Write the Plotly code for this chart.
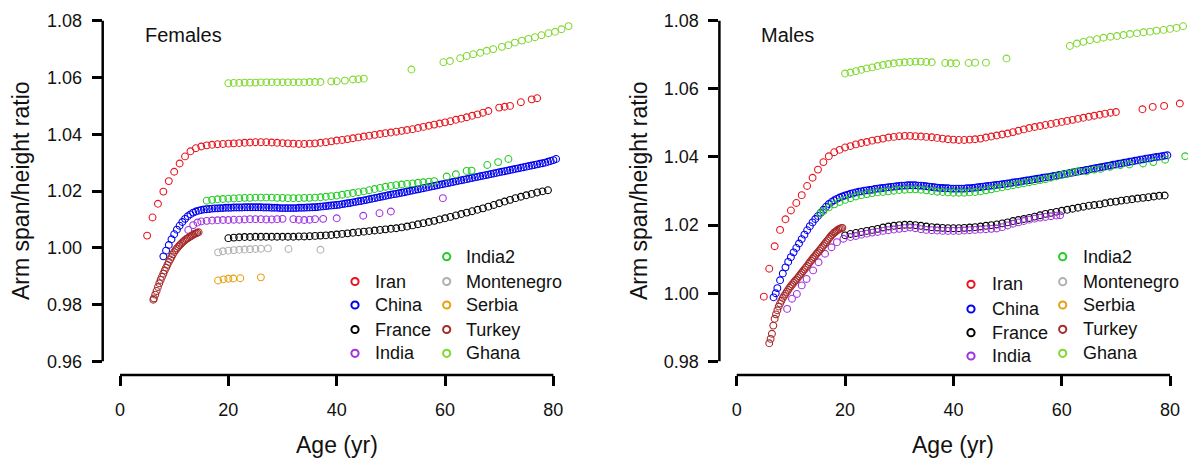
import plotly.graph_objects as go

W, H = 1188, 463
FONT = "Liberation Sans, Arial, sans-serif"

# ---------------- DATA ----------------
series_names = ["Iran", "China", "France", "India", "India2", "Montenegro", "Serbia", "Turkey", "Ghana"]
series_colors = ["#E8141E", "#0000EE", "#000000", "#A030E0", "#22CC22", "#B0B0B0", "#E8A010", "#A52A2A", "#80D830"]

x_ticks = [0, 20, 40, 60, 80]
f_y_ticks = [0.96, 0.98, 1.00, 1.02, 1.04, 1.06, 1.08]
m_y_ticks = [0.98, 1.00, 1.02, 1.04, 1.06, 1.08]

# ---- Females ----
f_iran_age = [5, 6, 7, 8, 9, 10, 11, 12, 13, 14, 15, 16, 17, 18, 19, 20, 21, 22, 23, 24, 25, 26, 27, 28, 29, 30,
              31, 32, 33, 34, 35, 36, 37, 38, 39, 40, 41, 42, 43, 44, 45, 46, 47, 48, 49, 50, 51, 52, 53, 54, 55,
              56, 57, 58, 59, 60, 61, 62, 63, 64, 65, 66, 67, 68, 70, 71, 72, 74, 76, 77]
f_iran_val = [1.0043, 1.0107, 1.0155, 1.0198, 1.0235, 1.0268, 1.0297, 1.0322, 1.0340, 1.0351, 1.0357, 1.0361,
              1.0363, 1.0365, 1.0366, 1.0367, 1.0368, 1.0369, 1.0370, 1.0371, 1.0372, 1.0372, 1.0372, 1.0371,
              1.0370, 1.0369, 1.0368, 1.0367, 1.0366, 1.0366, 1.0367, 1.0368, 1.0370, 1.0372, 1.0375, 1.0378,
              1.0380, 1.0383, 1.0386, 1.0389, 1.0392, 1.0395, 1.0398, 1.0401, 1.0404, 1.0406, 1.0409, 1.0412,
              1.0415, 1.0418, 1.0422, 1.0426, 1.0430, 1.0434, 1.0438, 1.0442, 1.0446, 1.0451, 1.0455, 1.0460,
              1.0465, 1.0470, 1.0476, 1.0482, 1.0494, 1.0497, 1.0500, 1.0513, 1.0523, 1.0527]

f_china_age = [8.0, 8.5, 9.0, 9.5, 10.0, 10.5, 11.0, 11.5, 12.0, 12.5, 13.0, 13.5, 14.0, 14.5, 15.0, 15.5,
               16.0, 16.5, 17.0, 17.5, 18.0, 18.5, 19.0, 19.5, 20.0, 20.5, 21.0, 21.5, 22.0, 22.5, 23.0, 23.5,
               24.0, 24.5, 25.0, 25.5, 26.0, 26.5, 27.0, 27.5, 28.0, 28.5, 29.0, 29.5, 30.0, 30.5, 31.0, 31.5,
               32.0, 32.5, 33.0, 33.5, 34.0, 34.5, 35.0, 35.5, 36.0, 36.5, 37.0, 37.5, 38.0, 38.5, 39.0, 39.5,
               40.0, 40.5, 41.0, 41.5, 42.0, 42.5, 43.0, 43.5, 44.0, 44.5, 45.0, 45.5, 46.0, 46.5, 47.0, 47.5,
               48.0, 48.5, 49.0, 49.5, 50.0, 50.5, 51.0, 51.5, 52.0, 52.5, 53.0, 53.5, 54.0, 54.5, 55.0, 55.5,
               56.0, 56.5, 57.0, 57.5, 58.0, 58.5, 59.0, 59.5, 60.0, 60.5, 61.0, 61.5, 62.0, 62.5, 63.0, 63.5,
               64.0, 64.5, 65.0, 65.5, 66.0, 66.5, 67.0, 67.5, 68.0, 68.5, 69.0, 69.5, 70.0, 70.5, 71.0, 71.5,
               72.0, 72.5, 73.0, 73.5, 74.0, 74.5, 75.0, 75.5, 76.0, 76.5, 77.0, 77.5, 78.0, 78.5, 79.0, 79.5,
               80.0, 80.5]
f_china_val = [0.9970, 0.9990, 1.0010, 1.0030, 1.0048, 1.0064, 1.0078, 1.0091, 1.0102, 1.0111, 1.0118, 1.0124,
               1.0128, 1.0131, 1.0133, 1.0135, 1.0136, 1.0137, 1.0138, 1.0139, 1.0139, 1.0140, 1.0140, 1.0141,
               1.0141, 1.0141, 1.0142, 1.0142, 1.0142, 1.0142, 1.0143, 1.0143, 1.0143, 1.0143, 1.0143, 1.0143,
               1.0143, 1.0142, 1.0142, 1.0142, 1.0141, 1.0141, 1.0141, 1.0140, 1.0140, 1.0140, 1.0140, 1.0140,
               1.0140, 1.0140, 1.0141, 1.0141, 1.0141, 1.0142, 1.0142, 1.0143, 1.0143, 1.0144, 1.0145, 1.0146,
               1.0147, 1.0148, 1.0149, 1.0150, 1.0151, 1.0152, 1.0154, 1.0155, 1.0157, 1.0158, 1.0160, 1.0162,
               1.0164, 1.0165, 1.0167, 1.0169, 1.0171, 1.0173, 1.0175, 1.0177, 1.0179, 1.0181, 1.0183, 1.0185,
               1.0187, 1.0189, 1.0190, 1.0192, 1.0194, 1.0196, 1.0198, 1.0200, 1.0202, 1.0204, 1.0206, 1.0208,
               1.0210, 1.0212, 1.0214, 1.0216, 1.0218, 1.0220, 1.0222, 1.0224, 1.0226, 1.0228, 1.0230, 1.0232,
               1.0234, 1.0236, 1.0238, 1.0240, 1.0242, 1.0244, 1.0246, 1.0248, 1.0250, 1.0252, 1.0254, 1.0256,
               1.0258, 1.0260, 1.0262, 1.0264, 1.0266, 1.0268, 1.0270, 1.0272, 1.0274, 1.0276, 1.0278, 1.0280,
               1.0282, 1.0284, 1.0286, 1.0288, 1.0290, 1.0292, 1.0294, 1.0296, 1.0298, 1.0300, 1.0303, 1.0306,
               1.0309, 1.0313]

f_france_age = [20, 21, 22, 23, 24, 25, 26, 27, 28, 29, 30, 31, 32, 33, 34, 35, 36, 37, 38, 39, 40, 41, 42, 43,
                44, 45, 46, 47, 48, 49, 50, 51, 52, 53, 54, 55, 56, 57, 58, 59, 60, 61, 62, 63, 64, 65, 66, 67,
                68, 69, 70, 71, 72, 73, 74, 75, 76, 77, 78, 79]
f_france_val = [1.0034, 1.0036, 1.0037, 1.0038, 1.0038, 1.0039, 1.0039, 1.0039, 1.0039, 1.0039, 1.0039, 1.0039,
                1.0039, 1.0040, 1.0040, 1.0041, 1.0042, 1.0043, 1.0044, 1.0045, 1.0047, 1.0049, 1.0051, 1.0053,
                1.0055, 1.0057, 1.0059, 1.0061, 1.0063, 1.0065, 1.0067, 1.0069, 1.0072, 1.0075, 1.0079, 1.0083,
                1.0087, 1.0091, 1.0095, 1.0100, 1.0104, 1.0109, 1.0114, 1.0119, 1.0124, 1.0129, 1.0134, 1.0139,
                1.0145, 1.0151, 1.0157, 1.0163, 1.0169, 1.0175, 1.0180, 1.0185, 1.0190, 1.0195, 1.0199, 1.0203]

f_india_age = [12.6, 13.5, 14.3, 15, 16, 17, 18, 19, 20, 21, 22, 23, 24, 25, 26, 27, 28, 29, 30,
               32, 33, 34, 35, 36, 37.5, 40, 44.9, 47.9, 50, 59.6]
f_india_val = [1.0063, 1.0080, 1.0089, 1.0093, 1.0095, 1.0096, 1.0097, 1.0098, 1.0098, 1.0099, 1.0099, 1.0100,
               1.0101, 1.0101, 1.0101, 1.0100, 1.0100, 1.0101, 1.0102, 1.0101, 1.0099, 1.0098, 1.0099, 1.0101,
               1.0102, 1.0104, 1.0113, 1.0122, 1.0128, 1.0175]

f_india2_age = [16, 17, 18, 19, 20, 21, 22, 23, 24, 25, 26, 27, 28, 29, 30, 31, 32, 33, 34, 35, 36, 37, 38, 39,
                40, 41, 42, 43, 44, 45, 46, 47, 48, 49, 50, 51, 52, 53, 54, 55, 56, 57, 58,
                60.3, 62, 64, 64.9, 67.8, 69.8, 71.7]
f_india2_val = [1.0166, 1.0169, 1.0171, 1.0172, 1.0173, 1.0174, 1.0175, 1.0176, 1.0176, 1.0177, 1.0177, 1.0177,
                1.0177, 1.0176, 1.0176, 1.0175, 1.0175, 1.0175, 1.0176, 1.0176, 1.0177, 1.0178, 1.0180, 1.0182,
                1.0184, 1.0187, 1.0190, 1.0193, 1.0196, 1.0199, 1.0203, 1.0207, 1.0211, 1.0215, 1.0218, 1.0221,
                1.0223, 1.0225, 1.0227, 1.0229, 1.0231, 1.0233, 1.0235,
                1.0251, 1.0259, 1.0271, 1.0272, 1.0292, 1.0302, 1.0313]

f_monte_age = [18.1, 19, 20, 21, 22, 23, 24, 25, 26, 27.3, 31.1, 37]
f_monte_val = [0.9984, 0.9988, 0.9990, 0.9992, 0.9993, 0.9994, 0.9995, 0.9996, 0.9997, 0.9998, 0.9996, 0.9993]

f_serbia_age = [18.1, 19.1, 20, 20.9, 22.2, 26]
f_serbia_val = [0.9885, 0.9889, 0.9891, 0.9892, 0.9893, 0.9896]

f_turkey_age = [6.15, 6.25, 6.5, 6.75, 7.0, 7.25, 7.5, 7.75, 8.0, 8.25, 8.5, 8.75, 9.0, 9.25, 9.5, 9.75, 10.0,
                10.25, 10.5, 10.75, 11.0, 11.25, 11.5, 11.75, 12.0, 12.25, 12.5, 12.75, 13.0, 13.25, 13.5,
                13.75, 14.0, 14.25, 14.5]
f_turkey_val = [0.9817, 0.9822, 0.9835, 0.9848, 0.9862, 0.9875, 0.9887, 0.9898, 0.9909, 0.9920, 0.9930, 0.9940,
                0.9950, 0.9959, 0.9968, 0.9977, 0.9985, 0.9992, 0.9998, 1.0004, 1.0009, 1.0014, 1.0019, 1.0023,
                1.0027, 1.0031, 1.0034, 1.0037, 1.0040, 1.0043, 1.0046, 1.0049, 1.0051, 1.0053, 1.0055]

f_ghana_age = [20, 21, 22, 23, 24, 25, 26, 27, 28, 29, 30, 31, 32, 33, 34, 35, 36, 37, 39, 40, 41.5, 43, 44, 45,
               53.8, 59.7, 60.9, 62.8, 64.0, 65.2, 66.5, 67.7, 68.9, 70.5, 71.7, 72.9, 74.2, 75.4, 76.6, 77.8,
               79.1, 80.3, 81.5, 82.8]
f_ghana_val = [1.0580, 1.0581, 1.0581, 1.0582, 1.0582, 1.0582, 1.0583, 1.0583, 1.0583, 1.0583, 1.0583, 1.0583,
               1.0583, 1.0583, 1.0583, 1.0584, 1.0584, 1.0584, 1.0586, 1.0587, 1.0589, 1.0593, 1.0594, 1.0596,
               1.0628, 1.0654, 1.0658, 1.0668, 1.0676, 1.0682, 1.0687, 1.0694, 1.0700, 1.0708, 1.0714, 1.0723,
               1.0730, 1.0736, 1.0742, 1.0749, 1.0756, 1.0761, 1.0770, 1.0781]

# ---- Males ----
m_iran_age = [5, 6, 7, 8, 9, 10, 11, 12, 13, 14, 15, 16, 17, 18, 19, 20, 21, 22, 23, 24, 25, 26, 27, 28, 29, 30,
              31, 32, 33, 34, 35, 36, 37, 38, 39, 40, 41, 42, 43, 44, 45, 46, 47, 48, 49, 50, 51, 52, 53, 54, 55,
              56, 57, 58, 59, 60, 61, 62, 63, 64, 65, 66, 67, 68, 69, 70, 74.9, 76.8, 78.9, 81.8]
m_iran_val = [0.9990, 1.0072, 1.0138, 1.0186, 1.0217, 1.0243, 1.0265, 1.0288, 1.0315, 1.0339, 1.0363, 1.0385,
              1.0402, 1.0414, 1.0421, 1.0428, 1.0432, 1.0437, 1.0441, 1.0444, 1.0448, 1.0451, 1.0454, 1.0457,
              1.0459, 1.0461, 1.0462, 1.0462, 1.0461, 1.0460, 1.0459, 1.0458, 1.0456, 1.0454, 1.0452, 1.0451,
              1.0450, 1.0450, 1.0451, 1.0452, 1.0454, 1.0457, 1.0460, 1.0463, 1.0466, 1.0469, 1.0473, 1.0477,
              1.0481, 1.0485, 1.0488, 1.0491, 1.0494, 1.0497, 1.0500, 1.0503, 1.0506, 1.0509, 1.0512, 1.0515,
              1.0518, 1.0521, 1.0524, 1.0527, 1.0530, 1.0532, 1.0540, 1.0547, 1.0550, 1.0557]

m_china_age = [6.8, 7.2, 7.5, 8.0, 8.5, 9.0, 9.5, 10.0, 10.5, 11.0, 11.5, 12.0, 12.5, 13.0, 13.5, 14.0, 14.5,
               15.0, 15.5, 16.0, 16.5, 17.0, 17.5, 18.0, 18.5, 19.0, 19.5, 20.0, 20.5, 21.0, 21.5, 22.0, 22.5,
               23.0, 23.5, 24.0, 24.5, 25.0, 25.5, 26.0, 26.5, 27.0, 27.5, 28.0, 28.5, 29.0, 29.5, 30.0, 30.5,
               31.0, 31.5, 32.0, 32.5, 33.0, 33.5, 34.0, 34.5, 35.0, 35.5, 36.0, 36.5, 37.0, 37.5, 38.0, 38.5,
               39.0, 39.5, 40.0, 40.5, 41.0, 41.5, 42.0, 42.5, 43.0, 43.5, 44.0, 44.5, 45.0, 45.5, 46.0, 46.5,
               47.0, 47.5, 48.0, 48.5, 49.0, 49.5, 50.0, 50.5, 51.0, 51.5, 52.0, 52.5, 53.0, 53.5, 54.0, 54.5,
               55.0, 55.5, 56.0, 56.5, 57.0, 57.5, 58.0, 58.5, 59.0, 59.5, 60.0, 60.5, 61.0, 61.5, 62.0, 62.5,
               63.0, 63.5, 64.0, 64.5, 65.0, 65.5, 66.0, 66.5, 67.0, 67.5, 68.0, 68.5, 69.0, 69.5, 70.0, 70.5,
               71.0, 71.5, 72.0, 72.5, 73.0, 73.5, 74.0, 74.5, 75.0, 75.5, 76.0, 76.5, 77.0, 77.5, 78.0, 78.5,
               79.0, 79.5]
m_china_val = [0.9988, 1.0000, 1.0015, 1.0038, 1.0058, 1.0076, 1.0092, 1.0106, 1.0120, 1.0133, 1.0146, 1.0159,
               1.0172, 1.0185, 1.0197, 1.0208, 1.0218, 1.0227, 1.0236, 1.0245, 1.0254, 1.0262, 1.0268, 1.0273,
               1.0277, 1.0281, 1.0284, 1.0287, 1.0289, 1.0292, 1.0294, 1.0296, 1.0298, 1.0299, 1.0301, 1.0302,
               1.0303, 1.0304, 1.0306, 1.0307, 1.0308, 1.0309, 1.0310, 1.0311, 1.0312, 1.0313, 1.0314, 1.0315,
               1.0316, 1.0316, 1.0317, 1.0317, 1.0317, 1.0317, 1.0316, 1.0316, 1.0315, 1.0314, 1.0313, 1.0312,
               1.0311, 1.0310, 1.0309, 1.0309, 1.0308, 1.0308, 1.0307, 1.0307, 1.0307, 1.0307, 1.0307, 1.0307,
               1.0308, 1.0308, 1.0309, 1.0310, 1.0311, 1.0312, 1.0313, 1.0314, 1.0315, 1.0316, 1.0317, 1.0318,
               1.0319, 1.0320, 1.0321, 1.0322, 1.0323, 1.0325, 1.0326, 1.0327, 1.0328, 1.0330, 1.0331, 1.0332,
               1.0333, 1.0335, 1.0336, 1.0337, 1.0339, 1.0340, 1.0341, 1.0342, 1.0344, 1.0345, 1.0347, 1.0348,
               1.0350, 1.0351, 1.0353, 1.0354, 1.0356, 1.0357, 1.0359, 1.0360, 1.0362, 1.0363, 1.0365, 1.0366,
               1.0368, 1.0369, 1.0371, 1.0372, 1.0374, 1.0375, 1.0377, 1.0378, 1.0380, 1.0381, 1.0383, 1.0384,
               1.0386, 1.0387, 1.0389, 1.0390, 1.0392, 1.0393, 1.0395, 1.0396, 1.0397, 1.0399, 1.0400, 1.0401,
               1.0402, 1.0404, 1.0405]

m_france_age = [20, 21, 22, 23, 24, 25, 26, 27, 28, 29, 30, 31, 32, 33, 34, 35, 36, 37, 38, 39, 40, 41, 42, 43,
                44, 45, 46, 47, 48, 49, 50, 51, 52, 53, 54, 55, 56, 57, 58, 59, 60, 61, 62, 63, 64, 65, 66, 67,
                68, 69, 70, 71, 72, 73, 74, 75, 76, 77, 78, 79]
m_france_val = [1.0170, 1.0174, 1.0177, 1.0180, 1.0183, 1.0186, 1.0189, 1.0193, 1.0196, 1.0198, 1.0200, 1.0201,
                1.0201, 1.0200, 1.0198, 1.0196, 1.0194, 1.0193, 1.0192, 1.0191, 1.0191, 1.0191, 1.0192, 1.0193,
                1.0194, 1.0196, 1.0198, 1.0200, 1.0202, 1.0205, 1.0208, 1.0212, 1.0215, 1.0218, 1.0221, 1.0225,
                1.0229, 1.0233, 1.0236, 1.0239, 1.0242, 1.0245, 1.0248, 1.0251, 1.0254, 1.0257, 1.0259, 1.0261,
                1.0264, 1.0267, 1.0269, 1.0272, 1.0274, 1.0276, 1.0278, 1.0280, 1.0282, 1.0284, 1.0286, 1.0287]

m_india_age = [9.3, 10.2, 11.1, 12.0, 12.9, 14.1, 15.1, 16.3, 17.5, 18.5, 19.7, 21, 22, 23, 24, 25, 26, 27, 28,
               29, 30, 31, 32, 33, 34, 35, 36, 37, 38, 39, 40, 41, 42, 43, 44, 45, 46, 47, 48, 49, 50, 51, 52,
               53, 54, 55, 56, 57, 58, 59, 59.7]
m_india_val = [0.9954, 0.9984, 0.9998, 1.0023, 1.0042, 1.0067, 1.0091, 1.0116, 1.0135, 1.0150, 1.0160, 1.0165,
               1.0168, 1.0172, 1.0175, 1.0178, 1.0180, 1.0183, 1.0185, 1.0187, 1.0189, 1.0191, 1.0193, 1.0191,
               1.0188, 1.0186, 1.0185, 1.0184, 1.0183, 1.0183, 1.0183, 1.0183, 1.0184, 1.0185, 1.0186, 1.0187,
               1.0188, 1.0189, 1.0190, 1.0194, 1.0199, 1.0204, 1.0208, 1.0212, 1.0216, 1.0219, 1.0222, 1.0224,
               1.0226, 1.0228, 1.0229]

m_india2_age = [15.4, 16, 17, 18, 19, 20, 21, 22, 23, 24, 25, 26, 27, 28, 29, 30, 31, 32, 33, 34, 35, 36, 37, 38,
                39, 40, 41, 42, 43, 44, 45, 46, 47, 48, 49, 50, 51, 52, 53, 54, 55, 56, 57, 58, 59, 60, 61, 62,
                63, 64.6, 66.0, 67.2, 68.9, 70.8, 72.5, 75.0, 76.9, 79.1, 82.8]
m_india2_val = [1.0234, 1.0241, 1.0252, 1.0261, 1.0268, 1.0274, 1.0279, 1.0284, 1.0288, 1.0291, 1.0294, 1.0296,
                1.0297, 1.0299, 1.0301, 1.0303, 1.0304, 1.0305, 1.0305, 1.0304, 1.0302, 1.0300, 1.0298, 1.0297,
                1.0296, 1.0295, 1.0295, 1.0295, 1.0296, 1.0297, 1.0299, 1.0302, 1.0305, 1.0308, 1.0311, 1.0314,
                1.0317, 1.0320, 1.0323, 1.0326, 1.0329, 1.0332, 1.0335, 1.0339, 1.0343, 1.0347, 1.0351, 1.0355,
                1.0358, 1.0358, 1.0363, 1.0365, 1.0371, 1.0376, 1.0378, 1.0381, 1.0385, 1.0392, 1.0402]

m_monte_age = []
m_monte_val = []
m_serbia_age = []
m_serbia_val = []

m_turkey_age = [6.0, 6.25, 6.5, 6.75, 7.0, 7.25, 7.5, 7.75, 8.0, 8.25, 8.5, 8.75, 9.0, 9.25, 9.5, 9.75, 10.0,
                10.25, 10.5, 10.75, 11.0, 11.25, 11.5, 11.75, 12.0, 12.25, 12.5, 12.75, 13.0, 13.25, 13.5,
                13.75, 14.0, 14.25, 14.5, 14.75, 15.0, 15.25, 15.5, 15.75, 16.0, 16.25, 16.5, 16.75, 17.0,
                17.25, 17.5, 17.75, 18.0, 18.25, 18.5, 18.75, 19.0, 19.25, 19.5]
m_turkey_val = [0.9853, 0.9866, 0.9881, 0.9905, 0.9925, 0.9938, 0.9950, 0.9961, 0.9970, 0.9978, 0.9986, 0.9992,
                0.9998, 1.0004, 1.0010, 1.0016, 1.0021, 1.0026, 1.0031, 1.0036, 1.0040, 1.0045, 1.0050, 1.0055,
                1.0060, 1.0065, 1.0070, 1.0075, 1.0080, 1.0086, 1.0091, 1.0096, 1.0101, 1.0106, 1.0111, 1.0116,
                1.0120, 1.0125, 1.0130, 1.0135, 1.0140, 1.0145, 1.0150, 1.0155, 1.0160, 1.0165, 1.0170, 1.0174,
                1.0178, 1.0181, 1.0184, 1.0187, 1.0189, 1.0191, 1.0192]

m_ghana_age = [20, 21, 22, 23, 24, 25, 26, 27, 28, 29, 30, 31, 32, 33, 34, 35, 36, 38.5, 39.5, 40.5, 42.8, 44,
               46, 49.8, 61.5, 62.8, 64.0, 65.2, 66.5, 67.7, 69.0, 70.2, 71.4, 72.6, 73.9, 75.1, 76.3, 77.5,
               78.8, 80.0, 81.2, 82.4]
m_ghana_val = [1.0645, 1.0648, 1.0652, 1.0656, 1.0660, 1.0663, 1.0667, 1.0670, 1.0673, 1.0675, 1.0677, 1.0678,
               1.0679, 1.0680, 1.0680, 1.0679, 1.0678, 1.0676, 1.0675, 1.0675, 1.0676, 1.0677, 1.0677, 1.0689,
               1.0726, 1.0733, 1.0738, 1.0743, 1.0746, 1.0750, 1.0753, 1.0755, 1.0758, 1.0761, 1.0763, 1.0766,
               1.0768, 1.0771, 1.0773, 1.0776, 1.0779, 1.0784]

females = [(f_iran_age, f_iran_val), (f_china_age, f_china_val), (f_france_age, f_france_val),
           (f_india_age, f_india_val), (f_india2_age, f_india2_val), (f_monte_age, f_monte_val),
           (f_serbia_age, f_serbia_val), (f_turkey_age, f_turkey_val), (f_ghana_age, f_ghana_val)]
males = [(m_iran_age, m_iran_val), (m_china_age, m_china_val), (m_france_age, m_france_val),
         (m_india_age, m_india_val), (m_india2_age, m_india2_val), (m_monte_age, m_monte_val),
         (m_serbia_age, m_serbia_val), (m_turkey_age, m_turkey_val), (m_ghana_age, m_ghana_val)]

# ---------------- FIGURE ----------------
fig = go.Figure()

for (ages, vals), name, col in zip(females, series_names, series_colors):
    fig.add_trace(go.Scatter(x=ages, y=vals, mode="markers", name=name, showlegend=False,
                             xaxis="x", yaxis="y", cliponaxis=False,
                             marker=dict(symbol="circle-open", size=6.8, color=col, line=dict(width=1.1))))
for (ages, vals), name, col in zip(males, series_names, series_colors):
    fig.add_trace(go.Scatter(x=ages, y=vals, mode="markers", name=name, showlegend=False,
                             xaxis="x2", yaxis="y2", cliponaxis=False,
                             marker=dict(symbol="circle-open", size=6.8, color=col, line=dict(width=1.1))))


def px(x):
    return x / W


def py(y):
    return 1 - y / H


ydom = [py(375.0), py(7.1)]
tickfont = dict(family=FONT, size=18, color="#111111")
common_x = dict(range=[-3.2, 83.2], tickvals=x_ticks, ticktext=[str(t) for t in x_ticks],
                ticks="outside", ticklen=10, tickwidth=2.5, tickcolor="#000000", ticklabelstandoff=8,
                showline=False, showgrid=False, zeroline=False, tickfont=tickfont, fixedrange=True)
common_y = dict(ticks="outside", ticklen=10, tickwidth=2.5, tickcolor="#000000", ticklabelstandoff=6,
                showline=False, showgrid=False, zeroline=False, tickfont=tickfont, fixedrange=True)

fig.update_layout(
    width=W, height=H, autosize=False,
    margin=dict(l=0, r=0, t=0, b=0),
    paper_bgcolor="white", plot_bgcolor="white",
    showlegend=False,
    xaxis=dict(domain=[px(102.7), px(570.7)], anchor="y", **common_x),
    yaxis=dict(domain=ydom, anchor="x", range=[0.9552, 1.0848], tickvals=f_y_ticks,
               ticktext=["%.2f" % t for t in f_y_ticks], **common_y),
    xaxis2=dict(domain=[px(719.4), px(1187.4)], anchor="y2", **common_x),
    yaxis2=dict(domain=ydom, anchor="x2", range=[0.976, 1.084], tickvals=m_y_ticks,
                ticktext=["%.2f" % t for t in m_y_ticks], **common_y),
)

# R-style axis lines spanning only first..last tick
shapes = []
for xa, ya, yt in (("x", "y", f_y_ticks), ("x2", "y2", m_y_ticks)):
    shapes.append(dict(type="line", xref=xa + " domain", yref=ya, x0=0, x1=0, y0=yt[0], y1=yt[-1],
                       line=dict(color="black", width=2.5)))
    shapes.append(dict(type="line", xref=xa, yref=ya + " domain", x0=x_ticks[0], x1=x_ticks[-1], y0=0, y1=0,
                       line=dict(color="black", width=2.5)))

annotations = []
title_font = dict(family=FONT, size=23, color="#111111")
for cx in (21, 639):
    annotations.append(dict(text="Arm span/height ratio", x=px(cx), y=py(191), xref="paper", yref="paper",
                            textangle=-90, showarrow=False, xanchor="center", yanchor="middle", font=title_font))
for cx in (336.7, 953.3):
    annotations.append(dict(text="Age (yr)", x=px(cx), y=py(445), xref="paper", yref="paper",
                            showarrow=False, xanchor="center", yanchor="middle", font=title_font))
panel_font = dict(family=FONT, size=20, color="#111111")
annotations.append(dict(text="Females", x=px(143.3), y=py(35.5), xref="paper", yref="paper",
                        showarrow=False, xanchor="left", yanchor="middle", font=panel_font))
annotations.append(dict(text="Males", x=px(759.3), y=py(35.5), xref="paper", yref="paper",
                        showarrow=False, xanchor="left", yanchor="middle", font=panel_font))

# custom two-column legends (text + small open circles)
leg_font = dict(family=FONT, size=18, color="#111111")
legend_layouts = [
    # (marker x col1, text x col1, marker x col2, text x col2, rows col1, rows col2)
    (355.0, 373.3, 446.7, 464.0, [281.5, 305.0, 329.5, 353.3], [256.7, 281.5, 305.0, 329.5, 353.3]),
    (971.0, 990.0, 1062.7, 1080.7, [284.3, 309.0, 332.7, 356.0], [256.7, 281.7, 305.0, 329.3, 353.3]),
]
r = 3.6
for mx1, tx1, mx2, tx2, rows1, rows2 in legend_layouts:
    entries = [(mx1, tx1, yy) for yy in rows1] + [(mx2, tx2, yy) for yy in rows2]
    for (mx, tx, yy), name, col in zip(entries, series_names, series_colors):
        shapes.append(dict(type="circle", xref="paper", yref="paper",
                           x0=px(mx - r), x1=px(mx + r), y0=py(yy + r), y1=py(yy - r),
                           line=dict(color=col, width=2), fillcolor="rgba(0,0,0,0)"))
        annotations.append(dict(text=name, x=px(tx), y=py(yy), xref="paper", yref="paper",
                                showarrow=False, xanchor="left", yanchor="middle", font=leg_font))

fig.update_layout(shapes=shapes, annotations=annotations)
fig.write_html("out.html")
